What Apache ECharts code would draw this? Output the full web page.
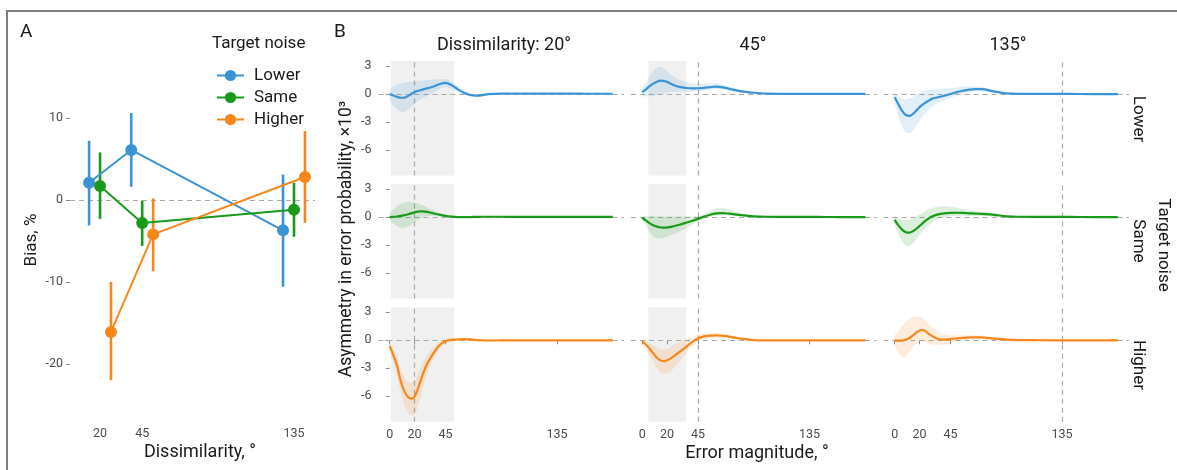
<!DOCTYPE html>
<html>
<head>
<meta charset="utf-8">
<script src="https://cdn.jsdelivr.net/npm/echarts@6/dist/echarts.min.js"></script>
<style>
  html, body { margin: 0; padding: 0; background: #fff; }
  #chart { width: 1177px; height: 470px; }
</style>
</head>
<body>
<div id="chart"></div>
<script>
// ---------- shared ----------
const FONT = 'Roboto, "Noto Sans", sans-serif';
const noiseLevels = ['Lower', 'Same', 'Higher'];
const noiseColors = ['#3a93d5', '#1a9a1a', '#f7861b'];
const dissimilarity = [20, 45, 135];

// ---------- panel A: bias (%) per dissimilarity ----------
const biasLower   = [2.1, 6.1, -3.7];
const biasLowerLo = [-3.1, 1.6, -10.6];
const biasLowerHi = [7.2, 10.6, 3.1];
const biasSame    = [1.7, -2.8, -1.2];
const biasSameLo  = [-2.3, -5.6, -4.5];
const biasSameHi  = [5.8, -0.1, 2.1];
const biasHigher   = [-16.1, -4.2, 2.8];
const biasHigherLo = [-22.0, -8.7, -2.8];
const biasHigherHi = [-10.0, 0.2, 8.4];
const biasTicks = [10, 0, -10, -20];

// ---------- panel B: asymmetry in error probability (x10^3) ----------
const errorMagnitude = [0, 3, 6, 9, 12, 15, 18, 21, 24, 27, 30, 35, 40, 45, 50, 55, 60, 65, 70, 80, 90, 100, 120, 140, 160, 180];
const errorTicks = [0, 20, 45, 135];
const asymTicks = [3, 0, -3, -6];

const lower20Mean = [0.00,-0.15,-0.30,-0.40,-0.38,-0.20,0.05,0.25,0.38,0.50, 0.60,0.78,1.05,1.20,0.95,0.50,0.15,-0.10,-0.18,0.00, 0.05,0.05,0.05,0.04,0.03,0.03];
const lower20Lo   = [-0.60,-1.20,-1.60,-1.90,-1.90,-1.70,-1.30,-0.90,-0.60,-0.40, -0.20,0.10,0.50,0.75,0.50,0.15,-0.10,-0.25,-0.30,-0.08, 0.00,0.01,0.01,0.00,-0.01,-0.01];
const lower20Hi   = [0.50,0.80,1.00,1.10,1.20,1.30,1.35,1.40,1.40,1.45, 1.50,1.55,1.60,1.60,1.35,0.85,0.40,0.10,-0.05,0.08, 0.10,0.09,0.09,0.08,0.07,0.07];

const lower45Mean = [0.20,0.50,0.85,1.12,1.32,1.43,1.38,1.25,1.05,0.88, 0.76,0.66,0.60,0.62,0.67,0.75,0.79,0.72,0.57,0.28, 0.14,0.05,0.02,0.02,0.02,0.02];
const lower45Lo   = [-0.20,-0.25,-0.25,-0.20,-0.10,0.00,0.10,0.20,0.25,0.25, 0.25,0.25,0.25,0.30,0.35,0.45,0.50,0.45,0.35,0.15, 0.05,0.00,-0.02,-0.02,-0.02,-0.02];
const lower45Hi   = [0.60,1.20,1.90,2.50,2.85,2.90,2.70,2.40,2.00,1.75, 1.50,1.30,1.15,1.10,1.10,1.12,1.12,1.00,0.80,0.45, 0.22,0.10,0.06,0.06,0.06,0.06];

const lower135Mean = [-0.35,-1.10,-1.80,-2.25,-2.35,-2.10,-1.70,-1.30,-1.00,-0.75, -0.52,-0.35,-0.18,0.00,0.20,0.35,0.47,0.53,0.53,0.28, 0.07,0.02,0.01,0.01,0.00,0.00];
const lower135Lo   = [-0.90,-2.40,-3.50,-4.10,-4.20,-3.90,-3.30,-2.70,-2.20,-1.80, -1.40,-1.00,-0.70,-0.40,-0.15,0.05,0.20,0.30,0.30,0.12, 0.00,-0.02,-0.03,-0.03,-0.04,-0.04];
const lower135Hi   = [0.10,-0.20,-0.50,-0.60,-0.50,-0.30,-0.05,0.15,0.30,0.42, 0.50,0.55,0.58,0.62,0.70,0.75,0.80,0.80,0.75,0.45, 0.15,0.06,0.05,0.05,0.04,0.04];

const same20Mean = [0.00,0.02,0.06,0.12,0.20,0.30,0.42,0.53,0.60,0.60, 0.55,0.40,0.25,0.13,0.05,0.00,-0.02,0.00,0.02,0.03, 0.03,0.02,0.02,0.02,0.02,0.02];
const same20Lo   = [-0.30,-0.70,-1.00,-1.15,-1.15,-1.00,-0.75,-0.45,-0.20,0.00, 0.10,0.10,0.05,0.00,-0.03,-0.05,-0.07,-0.04,-0.02,-0.01, -0.01,-0.02,-0.02,-0.02,-0.02,-0.02];
const same20Hi   = [0.40,0.80,1.15,1.40,1.55,1.60,1.60,1.50,1.40,1.25, 1.05,0.75,0.45,0.27,0.13,0.05,0.03,0.04,0.06,0.07, 0.07,0.06,0.06,0.06,0.06,0.06];

const same45Mean = [-0.08,-0.35,-0.65,-0.88,-1.03,-1.12,-1.14,-1.10,-1.03,-0.94, -0.83,-0.63,-0.43,-0.20,0.05,0.25,0.40,0.42,0.36,0.20, 0.08,0.03,0.01,0.01,0.00,0.00];
const same45Lo   = [-0.30,-0.90,-1.60,-2.10,-2.30,-2.30,-2.20,-2.05,-1.90,-1.75, -1.55,-1.25,-0.85,-0.45,-0.15,0.05,0.15,0.20,0.18,0.08, 0.02,-0.01,-0.03,-0.03,-0.04,-0.04];
const same45Hi   = [0.10,0.15,0.12,0.10,0.08,0.06,0.05,0.05,0.05,0.05, 0.05,0.05,0.05,0.10,0.30,0.70,0.95,1.00,0.80,0.40, 0.15,0.06,0.05,0.05,0.04,0.04];

const same135Mean = [-0.30,-0.90,-1.35,-1.62,-1.67,-1.50,-1.20,-0.85,-0.50,-0.20, 0.05,0.28,0.40,0.45,0.46,0.44,0.40,0.37,0.33,0.24, 0.08,0.03,0.01,0.01,0.00,0.00];
const same135Lo   = [-0.70,-1.80,-2.60,-3.05,-3.10,-2.80,-2.30,-1.75,-1.30,-0.90, -0.60,-0.25,-0.05,0.05,0.10,0.12,0.12,0.12,0.10,0.06, -0.02,-0.02,-0.03,-0.03,-0.04,-0.04];
const same135Hi   = [0.10,-0.10,-0.30,-0.35,-0.30,-0.15,0.10,0.35,0.60,0.80, 0.95,1.10,1.15,1.10,1.00,0.85,0.75,0.65,0.58,0.42, 0.18,0.07,0.05,0.05,0.04,0.04];

const higher20Mean = [-0.60,-1.60,-2.75,-4.40,-5.50,-6.10,-6.25,-5.80,-4.70,-3.55, -2.60,-1.45,-0.55,-0.10,0.05,0.10,0.13,0.10,0.03,-0.02, -0.01,0.00,0.00,0.00,0.00,0.00];
const higher20Lo   = [-1.10,-2.40,-3.80,-5.60,-7.00,-7.80,-8.05,-7.70,-6.50,-5.00, -3.70,-2.10,-0.95,-0.40,-0.15,-0.05,0.00,0.00,-0.05,-0.07, -0.05,-0.04,-0.04,-0.04,-0.04,-0.04];
const higher20Hi   = [-0.10,-0.90,-1.80,-3.20,-4.00,-4.40,-4.50,-4.10,-3.20,-2.30, -1.60,-0.80,-0.15,0.20,0.25,0.25,0.26,0.22,0.12,0.03, 0.03,0.04,0.04,0.04,0.04,0.04];

const higher45Mean = [-0.10,-0.45,-0.90,-1.40,-1.87,-2.15,-2.22,-2.08,-1.85,-1.55, -1.25,-0.75,-0.21,0.22,0.42,0.51,0.53,0.48,0.40,0.17, 0.02,0.00,0.00,0.00,0.00,0.00];
const higher45Lo   = [-0.50,-1.00,-1.60,-2.30,-3.00,-3.45,-3.60,-3.50,-3.20,-2.75, -2.30,-1.50,-0.70,-0.15,0.12,0.25,0.30,0.28,0.20,0.05, -0.03,-0.04,-0.04,-0.04,-0.04,-0.04];
const higher45Hi   = [0.20,0.05,-0.25,-0.55,-0.80,-0.95,-1.00,-0.85,-0.60,-0.35, -0.15,0.10,0.35,0.60,0.72,0.78,0.78,0.72,0.62,0.32, 0.08,0.04,0.04,0.04,0.04,0.04];

const higher135Mean = [0.00,-0.03,-0.03,0.08,0.25,0.55,0.85,1.10,1.05,0.75, 0.48,0.15,0.07,0.14,0.20,0.27,0.31,0.32,0.32,0.18, 0.07,0.02,0.01,0.00,0.00,0.00];
const higher135Lo   = [-0.50,-1.30,-1.85,-1.70,-1.20,-0.70,-0.35,-0.15,-0.15,-0.30, -0.45,-0.50,-0.45,-0.30,-0.15,0.00,0.08,0.10,0.10,0.03, -0.02,-0.03,-0.03,-0.04,-0.04,-0.04];
const higher135Hi   = [0.50,1.00,1.50,2.00,2.35,2.50,2.55,2.50,2.20,1.80, 1.45,0.95,0.65,0.55,0.55,0.55,0.55,0.55,0.52,0.35, 0.15,0.06,0.05,0.04,0.04,0.04];

// error-magnitude windows shaded in grey (per dissimilarity)
const shade20 = [1, 52];
const shade45 = [5, 35.5];

// ---------- lookup tables built from the arrays above ----------
const biasTable = [
  [biasLower, biasLowerLo, biasLowerHi],
  [biasSame, biasSameLo, biasSameHi],
  [biasHigher, biasHigherLo, biasHigherHi]
];
const asymTable = [
  [[lower20Mean, lower20Lo, lower20Hi], [lower45Mean, lower45Lo, lower45Hi], [lower135Mean, lower135Lo, lower135Hi]],
  [[same20Mean, same20Lo, same20Hi], [same45Mean, same45Lo, same45Hi], [same135Mean, same135Lo, same135Hi]],
  [[higher20Mean, higher20Lo, higher20Hi], [higher45Mean, higher45Lo, higher45Hi], [higher135Mean, higher135Lo, higher135Hi]]
];
const shadeTable = [shade20, shade45, null];

// ---------- layout ----------
const dodge = [-6.5, 0, 6.5];
const A = { left: 70, top: 61, width: 245, height: 360.7 };
const colLeft = [378.5, 631, 883.5];
const rowTop = [61, 184, 307.3];
const PW = 245.5, PH = 114.4;

const TICK = { color: '#8c8c8c', width: 1 };
const LABEL = { fontFamily: FONT, fontSize: 12.5, color: '#4d4d4d' };
const DASH = { color: '#a9a9a9', width: 1.2, type: [5, 4] };

function rgba(hex, a) {
  const n = parseInt(hex.slice(1), 16);
  return `rgba(${(n >> 16) & 255},${(n >> 8) & 255},${n & 255},${a})`;
}

const grid = [], xAxis = [], yAxis = [], series = [];

// panel A grid
grid.push({ left: A.left, top: A.top, width: A.width, height: A.height, outerBoundsMode: 'none' });
xAxis.push({
  gridIndex: 0, type: 'value', min: 2.2, max: 147.45,
  axisLine: { show: false }, splitLine: { show: false },
  axisTick: { show: true, customValues: dissimilarity, length: 4, lineStyle: TICK },
  axisLabel: Object.assign({ show: true, customValues: dissimilarity, margin: 6 }, LABEL)
});
yAxis.push({
  gridIndex: 0, type: 'value', min: -27.05, max: 16.95,
  axisLine: { show: false }, splitLine: { show: false },
  axisTick: { show: true, customValues: biasTicks, length: 4, lineStyle: TICK },
  axisLabel: Object.assign({ show: true, customValues: biasTicks, margin: 7 }, LABEL)
});

noiseLevels.forEach((lvl, i) => {
  const [m, lo, hi] = biasTable[i];
  const col = noiseColors[i];
  series.push({
    name: lvl + ' interval', type: 'custom', xAxisIndex: 0, yAxisIndex: 0, z: 3, silent: true,
    data: dissimilarity.map((d, j) => [d + dodge[i], lo[j], hi[j]]),
    encode: { x: 0, y: [1, 2] },
    renderItem: (params, api) => {
      const p1 = api.coord([api.value(0), api.value(1)]);
      const p2 = api.coord([api.value(0), api.value(2)]);
      return { type: 'line', shape: { x1: p1[0], y1: p1[1], x2: p2[0], y2: p2[1] },
               style: { stroke: col, lineWidth: 2.6 } };
    }
  });
  const s = {
    name: lvl, type: 'line', xAxisIndex: 0, yAxisIndex: 0, z: 4, silent: true,
    data: dissimilarity.map((d, j) => [d + dodge[i], m[j]]),
    symbol: 'circle', symbolSize: 12, showSymbol: true,
    itemStyle: { color: col }, lineStyle: { color: col, width: 2 }
  };
  if (i === 0) {
    s.markLine = { silent: true, symbol: 'none', z: 1, label: { show: false },
                   lineStyle: DASH, data: [{ yAxis: 0 }] };
  }
  series.push(s);
});

// panel B grids: rows = target noise, columns = dissimilarity
for (let r = 0; r < 3; r++) {
  for (let c = 0; c < 3; c++) {
    const g = grid.length;
    const bottomRow = r === 2, firstCol = c === 0;
    grid.push({ left: colLeft[c], top: rowTop[r], width: PW, height: PH, outerBoundsMode: 'none' });
    xAxis.push({
      gridIndex: g, type: 'value', min: -9, max: 189,
      axisLine: { show: false }, splitLine: { show: false },
      axisTick: { show: bottomRow, customValues: errorTicks, length: 4, lineStyle: TICK },
      axisLabel: Object.assign({ show: bottomRow, customValues: errorTicks, margin: 7 }, LABEL)
    });
    yAxis.push({
      gridIndex: g, type: 'value', min: -8.72, max: 3.54,
      axisLine: { show: false }, splitLine: { show: false },
      axisTick: { show: firstCol, customValues: asymTicks, length: 4, lineStyle: TICK },
      axisLabel: Object.assign({ show: firstCol, customValues: asymTicks, margin: 7 }, LABEL)
    });

    const [m, lo, hi] = asymTable[r][c];
    const col = noiseColors[r];
    const tag = noiseLevels[r] + ' ' + dissimilarity[c] + '°';

    // confidence ribbon: one polygon through the upper bound and back along the lower bound
    series.push({
      name: tag + ' band', type: 'custom', xAxisIndex: g, yAxisIndex: g, z: 2, silent: true, clip: true,
      data: errorMagnitude.map((x, k) => [x, lo[k], hi[k]]),
      encode: { x: 0, y: [1, 2] },
      renderItem: (params, api) => {
        if (params.dataIndex !== 0) return null;
        const upper = errorMagnitude.map((x, k) => api.coord([x, hi[k]]));
        const lower = errorMagnitude.map((x, k) => api.coord([x, lo[k]])).reverse();
        return { type: 'polygon', shape: { points: upper.concat(lower), smooth: 0.3 },
                 style: { fill: rgba(col, 0.15) } };
      }
    });

    const lineSeries = {
      name: tag, type: 'line', xAxisIndex: g, yAxisIndex: g, z: 3, silent: true,
      smooth: 0.35, symbol: 'none', showSymbol: false,
      data: errorMagnitude.map((x, k) => [x, m[k]]),
      lineStyle: { color: col, width: 2.2 },
      markLine: { silent: true, symbol: 'none', z: 1, label: { show: false }, lineStyle: DASH,
                  data: [{ yAxis: 0 }, { xAxis: dissimilarity[c] }] }
    };
    if (shadeTable[c]) {
      lineSeries.markArea = { silent: true, z: 0, itemStyle: { color: '#f0f0f0' },
                              data: [[{ xAxis: shadeTable[c][0] }, { xAxis: shadeTable[c][1] }]] };
    }
    series.push(lineSeries);
  }
}

// ---------- text and frame ----------
function txt(text, x, y, size, opts = {}) {
  return {
    type: 'text', x, y, rotation: opts.rot || 0, silent: true, z: 10,
    style: {
      text, fill: opts.color || '#1a1a1a', fontSize: size, fontFamily: FONT,
      align: opts.align || 'center', verticalAlign: 'middle',
      textAlign: opts.align || 'center', textVerticalAlign: 'middle'
    }
  };
}
const graphic = [
  { type: 'line', silent: true, shape: { x1: 6, y1: 11, x2: 1177, y2: 11 }, style: { stroke: '#7f7f7f', lineWidth: 2 } },
  { type: 'line', silent: true, shape: { x1: 7, y1: 10, x2: 7, y2: 470 }, style: { stroke: '#7f7f7f', lineWidth: 2 } },
  txt('A', 20, 32, 19, { align: 'left' }),
  txt('B', 334, 32, 19, { align: 'left' }),
  txt('Target noise', 212, 44, 17, { align: 'left' }),
  txt('Bias, %', 32, 240, 17, { rot: Math.PI / 2 }),
  txt('Dissimilarity, °', 200, 452, 18),
  txt('Dissimilarity: 20°', 504, 45, 18),
  txt('45°', 753, 45, 18),
  txt('135°', 1008, 45, 18),
  txt('Asymmetry in error probability, ×10³', 347, 239, 17.5, { rot: Math.PI / 2 }),
  txt('Error magnitude, °', 757, 453, 18),
  txt('Lower', 1138, 119, 17, { rot: -Math.PI / 2 }),
  txt('Same', 1138, 241, 17, { rot: -Math.PI / 2 }),
  txt('Higher', 1138, 365, 17, { rot: -Math.PI / 2 }),
  txt('Target noise', 1163, 245, 17, { rot: -Math.PI / 2 })
];

const chart = echarts.init(document.getElementById('chart'), null, { renderer: 'canvas' });
chart.setOption({
  animation: false,
  backgroundColor: '#ffffff',
  textStyle: { fontFamily: FONT },
  legend: {
    data: noiseLevels, orient: 'vertical', left: 211, top: 62,
    itemWidth: 27, itemHeight: 14, itemGap: 5, selectedMode: false,
    textStyle: { fontFamily: FONT, fontSize: 17, color: '#1a1a1a', padding: [0, 0, 0, 5] }
  },
  grid, xAxis, yAxis, series, graphic
});
</script>
</body>
</html>
